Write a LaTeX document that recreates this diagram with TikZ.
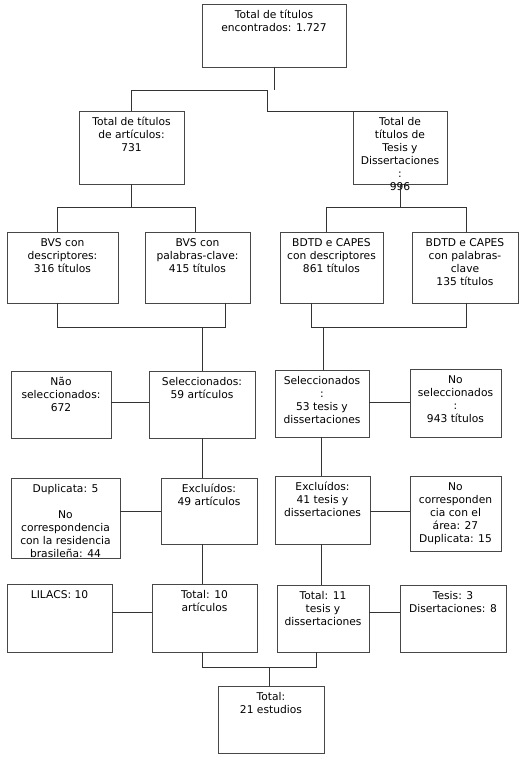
\documentclass[tikz,border=0pt]{standalone}
\usepackage{fontspec}
\setmainfont{DejaVu Sans}
\begin{document}
\begin{tikzpicture}[x=1pt,y=-1pt,
  box/.style={draw=black!72,line width=0.95pt,inner sep=0pt,outer sep=0pt,rectangle},
  txt/.style={inner sep=0pt,align=center,font=\fontsize{10.7}{13}\selectfont},
  con/.style={draw=black!80,line width=0.8pt}]
\useasboundingbox (0,0) rectangle (522,757);
\newcommand\bx[6]{%
  \node[box,minimum width={(#4-#2)*1pt},minimum height={(#5-#3)*1pt}] (#1) at ({(#2+#4)/2},{(#3+#5)/2}) {};
  \node[txt,anchor=north] (#1t) at ([yshift=-6pt]#1.north) {#6};}
% boxes
\bx{top}{202}{4}{346}{67}{Total de títulos\\encontrados: 1.727}
\bx{artic}{79}{111}{184}{184}{Total de títulos\\de artículos:\\731}
\bx{tesis}{353}{111}{447}{184}{Total de\\títulos de\\Tesis y\\Dissertaciones\\:\\996}
\bx{bvsa}{7}{232}{118}{303}{BVS con\\descriptores:\\316 títulos}
\bx{bvsb}{145}{232}{250}{303}{BVS con\\palabras-clave:\\415 títulos}
\bx{bdtda}{280}{232}{383}{303}{BDTD e CAPES\\con descriptores\\861 títulos}
\bx{bdtdb}{412}{232}{518}{303}{BDTD e CAPES\\con palabras-\\clave\\135 títulos}
\bx{nao}{11}{371}{111}{438}{Não\\seleccionados:\\672}
\bx{selA}{149}{371}{255}{438}{Seleccionados:\\59 artículos}
\bx{selB}{275}{370}{369}{437}{Seleccionados\\:\\53 tesis y\\dissertaciones}
\bx{nosel}{410}{369}{501}{437}{No\\seleccionados\\:\\943 títulos}
\bx{dup}{11}{478}{120}{558}{Duplicata: 5\\[13pt]No\\correspondencia\\con la residencia\\brasileña: 44}
\bx{excA}{161}{478}{257}{544}{Excluídos:\\49 artículos}
\bx{excB}{275}{476}{370}{544}{Excluídos:\\41 tesis y\\dissertaciones}
\bx{nocorr}{410}{476}{501}{551}{No\\corresponden\\cia con el\\área: 27\\Duplicata: 15}
\bx{lilacs}{7}{584}{112}{652}{LILACS: 10}
\bx{totA}{152}{584}{257}{652}{Total: 10\\artículos}
\bx{totB}{277}{585}{369}{652}{Total: 11\\tesis y\\dissertaciones}
\bx{tes}{400}{585}{506}{652}{Tesis: 3\\Disertaciones: 8}
\bx{final}{218}{686}{324}{753}{Total:\\21 estudios}
% connectors
\coordinate (j1) at (267,90);
\coordinate (j2) at (267,111);
\draw[con] (top.south) -- (top.south |- j1);
\draw[con] (artic.north) |- (j1) -- (j2) -- (tesis.north);
\draw[con] (artic.south) -- (artic.south |- 0,207);
\draw[con] (bvsa.north -| 57,0) -- (57,207) -- (195,207) -- (bvsb.north -| 195,0);
\draw[con] (tesis.south) -- (tesis.south |- 0,207);
\draw[con] (bdtda.north -| 326,0) -- (326,207) -- (466,207) -- (bdtdb.north -| 466,0);
\draw[con] (bvsa.south -| 57,0) -- (57,327) -- (225,327) -- (bvsb.south -| 225,0);
\draw[con] (selA.north) -- (selA.north |- 0,327);
\draw[con] (bdtda.south -| 311,0) -- (311,327) -- (466,327) -- (bdtdb.south -| 466,0);
\draw[con] (selB.north -| 323,0) -- (323,327);
\draw[con] (nao.east |- 0,402) -- (selA.west |- 0,402);
\draw[con] (selB.east |- 0,402) -- (nosel.west |- 0,402);
\draw[con] (selA.south) -- (selA.south |- excA.north);
\draw[con] (selB.south -| 321,0) -- (excB.north -| 321,0);
\draw[con] (dup.east |- 0,511) -- (excA.west |- 0,511);
\draw[con] (excB.east |- 0,511) -- (nocorr.west |- 0,511);
\draw[con] (excA.south -| 202,0) -- (totA.north -| 202,0);
\draw[con] (excB.south -| 321,0) -- (totB.north -| 321,0);
\draw[con] (lilacs.east |- 0,612) -- (totA.west |- 0,612);
\draw[con] (totB.east |- 0,612) -- (tes.west |- 0,612);
\draw[con] (totA.south -| 202,0) -- (202,667) -- (316,667) -- (totB.south -| 316,0);
\draw[con] (final.north -| 269,0) -- (269,667);
\end{tikzpicture}
\end{document}
